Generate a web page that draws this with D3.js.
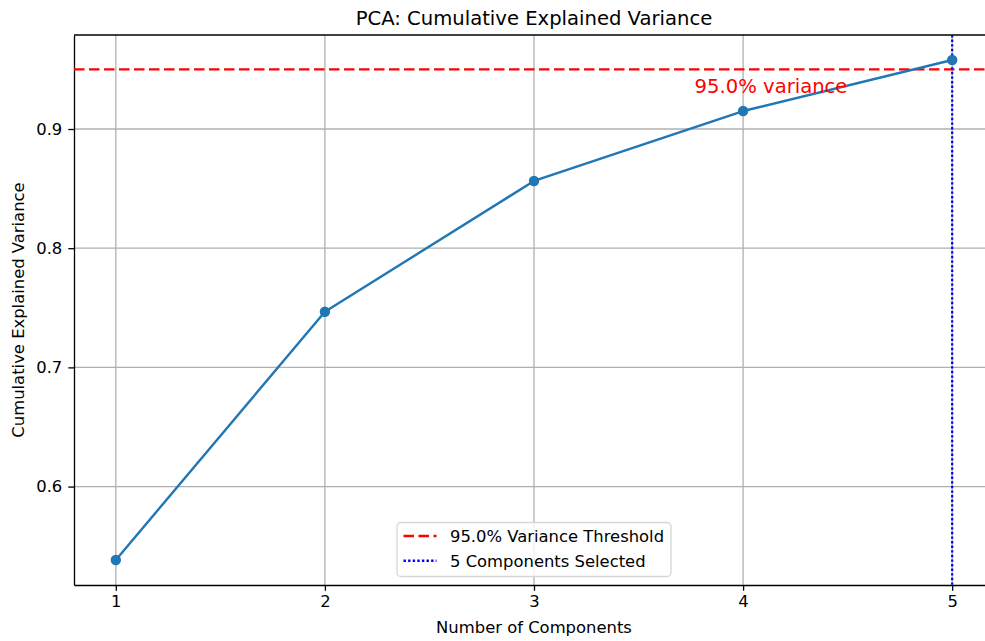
<!DOCTYPE html>
<html>
<head>
<meta charset="utf-8">
<script src="https://cdn.jsdelivr.net/npm/d3@7"></script>
<style>
  html, body { margin: 0; padding: 0; background: #fff; }
  svg { display: block; font-family: "DejaVu Sans", sans-serif; }
</style>
</head>
<body>
<svg id="chart" width="985" height="641"></svg>
<script>
// Number of principal components and cumulative explained variance
const components = [1, 2, 3, 4, 5];
const cumulativeVariance = [0.5384, 0.7467, 0.8564, 0.9151, 0.9579];
const xTicks = [1, 2, 3, 4, 5];
const yTicks = [0.6, 0.7, 0.8, 0.9];
const threshold = 0.95;
const selectedComponents = 5;
const legendLabels = ["95.0% Variance Threshold", "5 Components Selected"];

const svg = d3.select("#chart");
const plot = { left: 74, top: 35, width: 920, height: 550 };

// Axis limits with 5% padding around the data
const xPad = (d3.max(components) - d3.min(components)) * 0.05;
const yPad = (d3.max(cumulativeVariance) - d3.min(cumulativeVariance)) * 0.05;
const x = d3.scaleLinear()
  .domain([d3.min(components) - xPad, d3.max(components) + xPad])
  .range([plot.left, plot.left + plot.width]);
const y = d3.scaleLinear()
  .domain([d3.min(cumulativeVariance) - yPad, d3.max(cumulativeVariance) + yPad])
  .range([plot.top + plot.height, plot.top]);

const clipId = "plot-clip";
svg.append("clipPath").attr("id", clipId)
  .append("rect")
  .attr("x", plot.left).attr("y", plot.top)
  .attr("width", plot.width).attr("height", plot.height);

// Grid
const grid = svg.append("g").attr("clip-path", `url(#${clipId})`);
grid.selectAll("line.vgrid").data(xTicks).join("line")
  .attr("class", "vgrid")
  .attr("x1", d => x(d)).attr("x2", d => x(d))
  .attr("y1", plot.top).attr("y2", plot.top + plot.height)
  .attr("stroke", "#b0b0b0").attr("stroke-width", 1.3);
grid.selectAll("line.hgrid").data(yTicks).join("line")
  .attr("class", "hgrid")
  .attr("x1", plot.left).attr("x2", plot.left + plot.width)
  .attr("y1", d => y(d)).attr("y2", d => y(d))
  .attr("stroke", "#b0b0b0").attr("stroke-width", 1.3);

// Axes
const xAxis = svg.append("g")
  .attr("transform", `translate(0,${plot.top + plot.height})`)
  .call(d3.axisBottom(x).tickValues(xTicks).tickFormat(d3.format("d"))
    .tickSizeInner(5.7).tickSizeOuter(0).tickPadding(5));
const yAxis = svg.append("g")
  .attr("transform", `translate(${plot.left},0)`)
  .call(d3.axisLeft(y).tickValues(yTicks).tickFormat(d3.format(".1f"))
    .tickSizeInner(5.7).tickSizeOuter(0).tickPadding(6));
[xAxis, yAxis].forEach(g => {
  g.select(".domain").attr("stroke", "#000").attr("stroke-width", 1.3);
  g.selectAll(".tick line").attr("stroke", "#000").attr("stroke-width", 1.3);
  g.selectAll(".tick text").attr("fill", "#000")
    .style("font-family", "DejaVu Sans, sans-serif").style("font-size", "16.4px");
});
// Top spine
svg.append("line")
  .attr("x1", plot.left).attr("x2", plot.left + plot.width)
  .attr("y1", plot.top).attr("y2", plot.top)
  .attr("stroke", "#000").attr("stroke-width", 1.3);

const layer = svg.append("g").attr("clip-path", `url(#${clipId})`);

// Threshold and selection reference lines
layer.append("line")
  .attr("x1", plot.left).attr("x2", plot.left + plot.width)
  .attr("y1", y(threshold)).attr("y2", y(threshold))
  .attr("stroke", "#ff0000").attr("stroke-width", 2.4)
  .attr("stroke-dasharray", "10.5,4.5");
layer.append("line")
  .attr("x1", x(selectedComponents)).attr("x2", x(selectedComponents))
  .attr("y1", plot.top).attr("y2", plot.top + plot.height)
  .attr("stroke", "#0000ff").attr("stroke-width", 2.2)
  .attr("stroke-dasharray", "2.4,2.2");

// Cumulative variance curve with markers
const data = components.map((c, i) => ({ c, v: cumulativeVariance[i] }));
layer.append("path")
  .datum(data)
  .attr("fill", "none")
  .attr("stroke", "#1f77b4").attr("stroke-width", 2.4)
  .attr("stroke-linejoin", "round")
  .attr("d", d3.line().x(d => x(d.c)).y(d => y(d.v)));
layer.selectAll("circle").data(data).join("circle")
  .attr("cx", d => x(d.c)).attr("cy", d => y(d.v))
  .attr("r", 5.2).attr("fill", "#1f77b4");

// Threshold annotation
svg.append("text")
  .attr("x", 771).attr("y", 93)
  .attr("text-anchor", "middle")
  .attr("fill", "#ff0000")
  .style("font-size", "19.6px")
  .text(`${(threshold * 100).toFixed(1)}% variance`);

// Title and axis labels
svg.append("text")
  .attr("x", plot.left + plot.width / 2).attr("y", 25)
  .attr("text-anchor", "middle").attr("fill", "#000")
  .style("font-size", "19.6px")
  .text("PCA: Cumulative Explained Variance");
svg.append("text")
  .attr("x", plot.left + plot.width / 2).attr("y", 633)
  .attr("text-anchor", "middle").attr("fill", "#000")
  .style("font-size", "16.4px")
  .text("Number of Components");
svg.append("text")
  .attr("transform", `translate(24,${plot.top + plot.height / 2}) rotate(-90)`)
  .attr("text-anchor", "middle").attr("fill", "#000")
  .style("font-size", "16.4px")
  .text("Cumulative Explained Variance");

// Legend
const legend = svg.append("g").attr("transform", "translate(397,522.5)");
legend.append("rect")
  .attr("width", 274).attr("height", 54).attr("rx", 4)
  .attr("fill", "#fff").attr("fill-opacity", 0.8)
  .attr("stroke", "#d6d6d6").attr("stroke-width", 1.3);
const legendStyles = [
  { color: "#ff0000", dash: "10.5,4.5" },
  { color: "#0000ff", dash: "2.4,2.2" }
];
legendLabels.forEach((label, i) => {
  const row = legend.append("g").attr("transform", `translate(0,${13.5 + i * 24.7})`);
  row.append("line")
    .attr("x1", 6.5).attr("x2", 39.5).attr("y1", 0).attr("y2", 0)
    .attr("stroke", legendStyles[i].color).attr("stroke-width", 2.4)
    .attr("stroke-dasharray", legendStyles[i].dash);
  row.append("text")
    .attr("x", 53).attr("y", 6)
    .attr("fill", "#000").style("font-size", "16.4px")
    .text(label);
});
</script>
</body>
</html>
